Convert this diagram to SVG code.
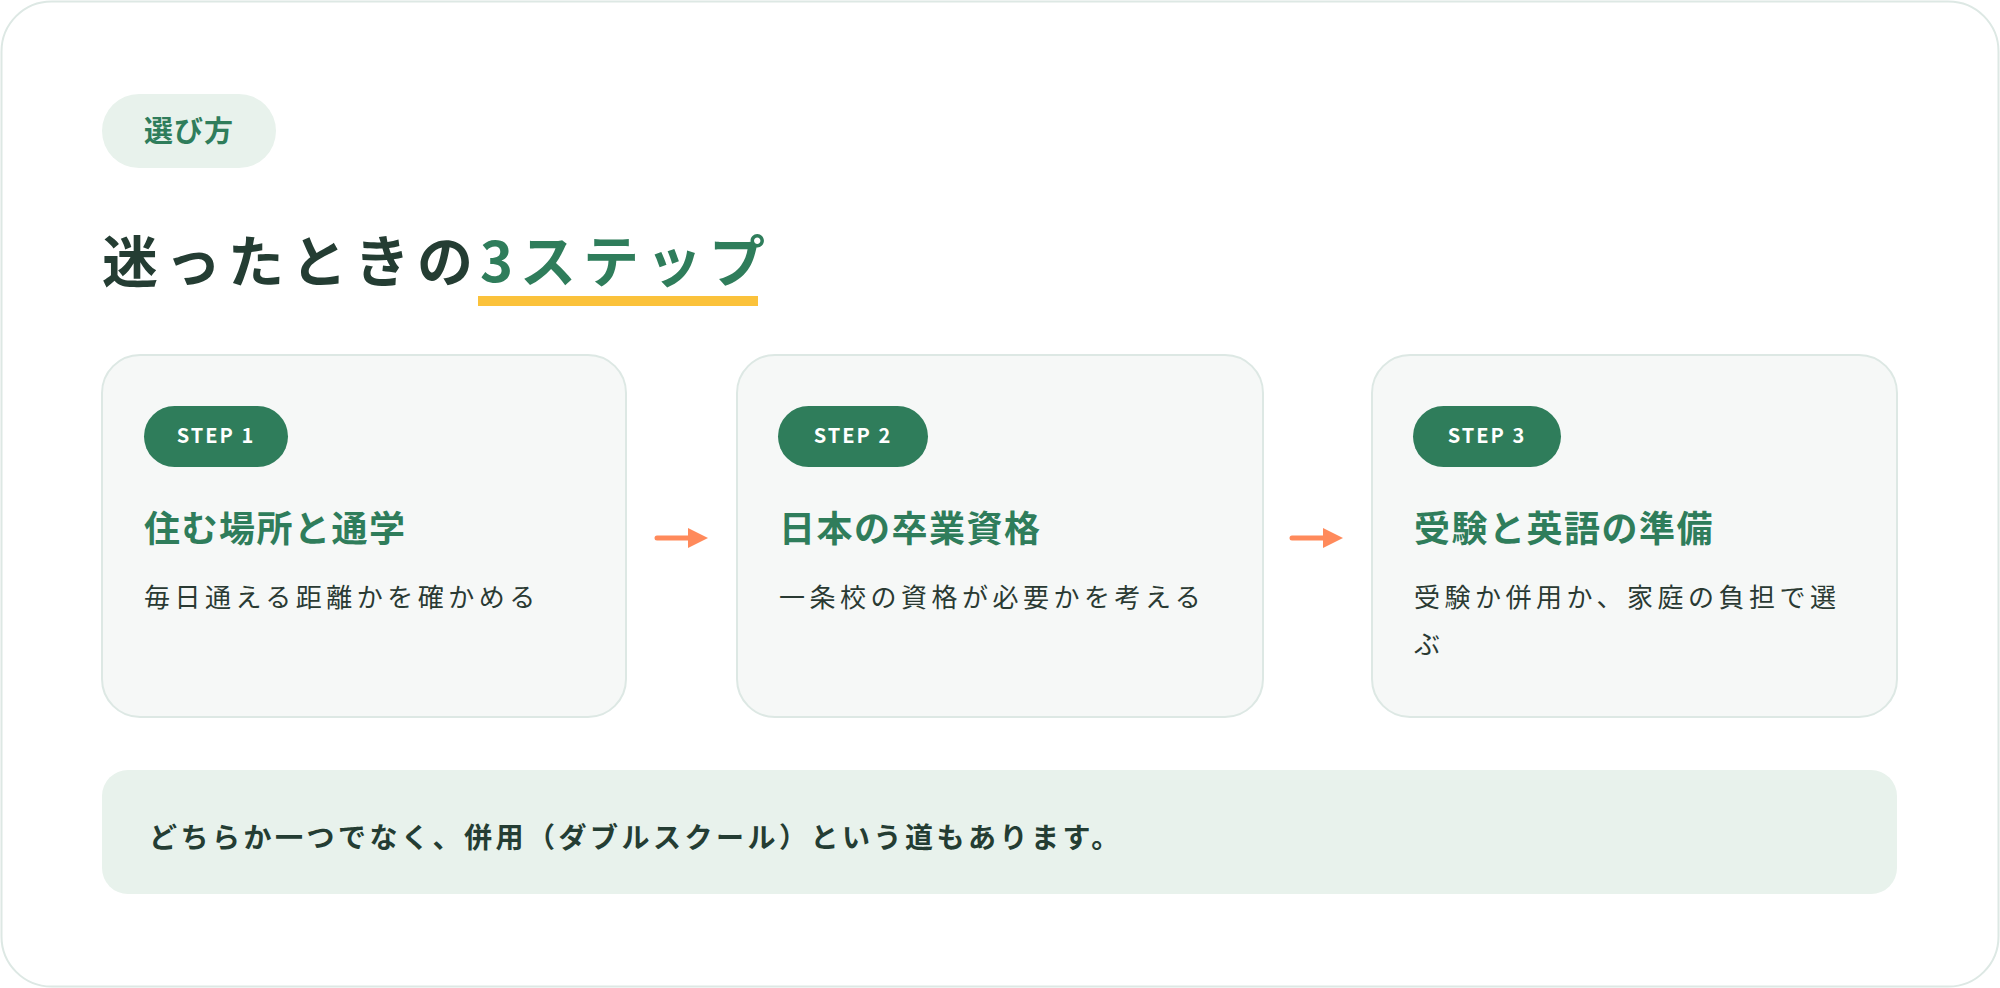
<svg xmlns="http://www.w3.org/2000/svg" width="2000" height="988" viewBox="0 0 2000 988">
<style>
text{font-family:"Noto Sans CJK JP","Noto Sans",sans-serif}
.card{fill:#f6f8f7;stroke:#dde8e4;stroke-width:2}
.pill{fill:#2f7d5b}
.pt{fill:#fff;font-size:20px;font-weight:700;letter-spacing:2px;text-anchor:middle}
.h{fill:#2f7d5b;font-size:36px;font-weight:700;letter-spacing:1.5px}
.d{fill:#2a3a33;font-size:26px;letter-spacing:4.5px}
.arr{stroke:#ff8a5b;stroke-width:5;stroke-linecap:round;fill:none}
</style>
<defs><marker id="ah" viewBox="0 0 10 10" refX="6" refY="5" markerWidth="4" markerHeight="4" orient="auto"><path d="M0,0L10,5L0,10z" fill="#ff8a5b"/></marker></defs>
<rect x="1.5" y="1.5" width="1997" height="985" rx="50" fill="#fff" stroke="#dde8e4" stroke-width="2"/>
<g id="chip"><rect x="102" y="94" width="174" height="74" rx="37" fill="#e8f2ec"/><text x="189" y="142" text-anchor="middle" font-size="29" font-weight="700" fill="#2f7d5b" letter-spacing="1">選び方</text></g>
<g id="title"><text x="102" y="282" font-size="56" font-weight="700" fill="#243d33" letter-spacing="7">迷ったときの<tspan fill="#2f7d5b">3ステップ</tspan></text><rect x="478" y="296" width="280" height="10" fill="#fbc23b"/></g>
<g id="step1"><rect class="card" x="102" y="355" width="524" height="362" rx="38"/><rect class="pill" x="144" y="406" width="144" height="61" rx="30.5"/><text class="pt" x="216" y="443">STEP 1</text><text class="h" x="144" y="542">住む場所と通学</text><text class="d" x="144" y="607">毎日通える距離かを確かめる</text></g>
<g id="step2"><rect class="card" x="737" y="355" width="526" height="362" rx="38"/><rect class="pill" x="778" y="406" width="150" height="61" rx="30.5"/><text class="pt" x="853" y="443">STEP 2</text><text class="h" x="779" y="542">日本の卒業資格</text><text class="d" x="779" y="607">一条校の資格が必要かを考える</text></g>
<g id="step3"><rect class="card" x="1372" y="355" width="525" height="362" rx="38"/><rect class="pill" x="1413" y="406" width="148" height="61" rx="30.5"/><text class="pt" x="1487" y="443">STEP 3</text><text class="h" x="1414" y="542">受験と英語の準備</text><text class="d" x="1414" y="607">受験か併用か、家庭の負担で選</text><text class="d" x="1414" y="654">ぶ</text></g>
<g id="connectors"><path class="arr" d="M657,538H700" marker-end="url(#ah)"/><path class="arr" d="M1292,538H1335" marker-end="url(#ah)"/></g>
<g id="note"><rect x="102" y="770" width="1795" height="124" rx="26" fill="#e8f2ec"/><text x="149" y="848" font-size="28" font-weight="700" fill="#243d33" letter-spacing="3.5">どちらか一つでなく、併用（ダブルスクール）という道もあります。</text></g>
</svg>
